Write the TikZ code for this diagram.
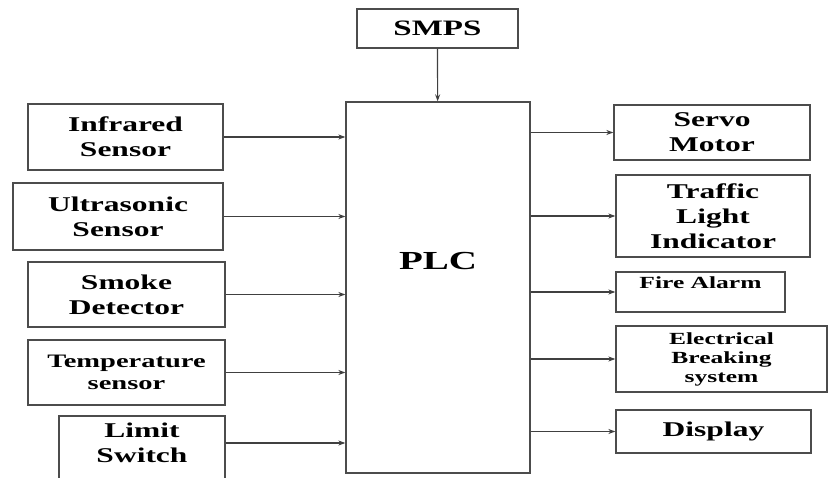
\documentclass[tikz,border=0pt]{standalone}
\usepackage{fontspec}
\setmainfont{Liberation Serif}[FakeStretch=1.5]
\usetikzlibrary{arrows.meta}

\begin{document}
\begin{tikzpicture}[x=1pt, y=-1pt,
  blk/.style={draw=black!70, line width=1.3pt, align=center, inner sep=2pt,
        font=\bfseries\fontsize{21}{25}\selectfont},
  sml/.style={blk, font=\bfseries\fontsize{17}{19}\selectfont},
  fio/.style={draw=black!75, line width=1.2pt, -{Stealth[length=7pt,width=5pt]}},
]
  \useasboundingbox (0,0) rectangle (828,478);
  % supply and controller
  \node[blk, minimum width=161pt, minimum height=39pt, font=\bfseries\fontsize{22}{26}\selectfont] (smps) at (437.5,28.5) {SMPS};
  \node[blk, minimum width=184pt, minimum height=371pt, font=\bfseries\fontsize{26}{30}\selectfont] (plc) at (438,287.5) {PLC\\[24pt]\mbox{}};
  % inputs
  \node[blk, minimum width=195pt, minimum height=66pt] (ir) at (125.5,137) {Infrared\\Sensor};
  \node[blk, minimum width=210pt, minimum height=67pt] (us) at (118,216.5) {Ultrasonic\\Sensor};
  \node[blk, minimum width=197pt, minimum height=65pt] (smoke) at (126.5,294.5) {Smoke\\Detector};
  \node[blk, minimum width=197pt, minimum height=65pt, font=\bfseries\fontsize{19}{22}\selectfont] (temp) at (126.5,372.5) {Temperature\\sensor};
  \node[blk, minimum width=166pt, minimum height=64pt] (limit) at (142,448) {Limit\\Switch\\[-14pt]\mbox{}};
  % outputs
  \node[blk, minimum width=196pt, minimum height=55pt] (servo) at (712,132.5) {Servo\\Motor};
  \node[blk, minimum width=194pt, minimum height=82pt] (traffic) at (713,216) {Traffic\\Light\\Indicator};
  \node[sml, minimum width=169pt, minimum height=40pt] (fire) at (700.5,292) {Fire Alarm\\\mbox{}};
  \node[sml, minimum width=211pt, minimum height=66pt] (elec) at (721.5,359) {Electrical\\Breaking\\system};
  \node[blk, minimum width=195pt, minimum height=43pt] (disp) at (713.5,431.5) {Display};

  \draw[fio] (smps) -- (plc);
  \foreach \s in {ir,us,smoke,temp}
    \draw[fio] (\s.east) -- (\s.east -| plc.west);
  \draw[fio] ([yshift=5pt]limit.east) -- ([yshift=5pt]limit.east -| plc.west);
  \foreach \t in {servo,traffic,fire,elec,disp}
    \draw[fio] (plc.east |- \t.west) -- (\t.west);
\end{tikzpicture}
\end{document}
